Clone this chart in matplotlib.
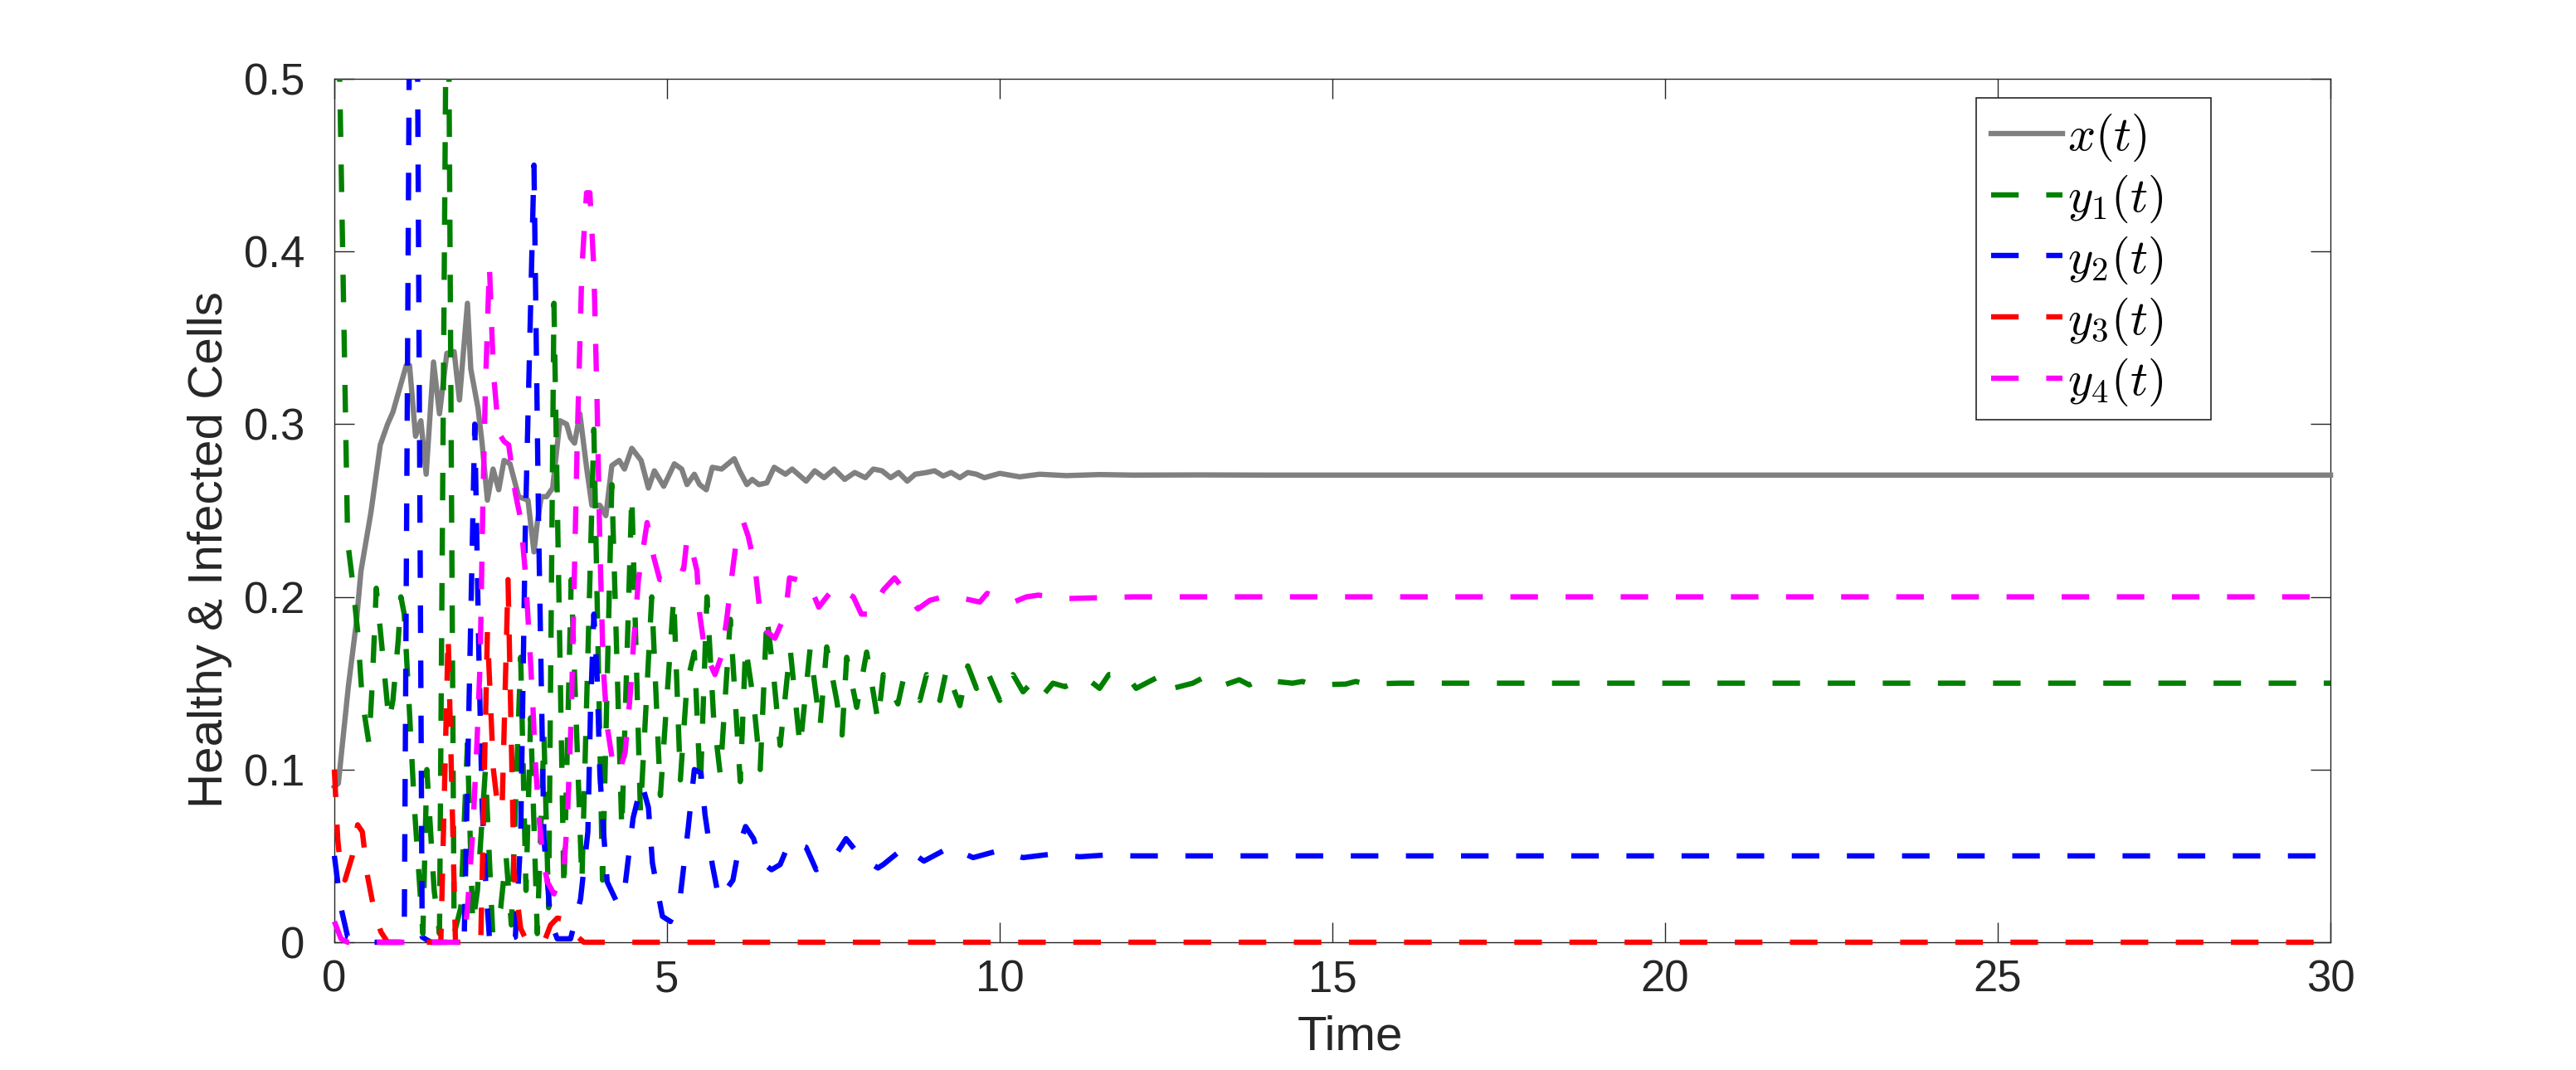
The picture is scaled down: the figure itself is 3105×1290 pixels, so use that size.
import matplotlib
matplotlib.use("Agg")
import matplotlib.pyplot as plt
from matplotlib.patches import Rectangle
from matplotlib.ticker import FuncFormatter

plt.rcParams['font.family'] = ['Liberation Sans', 'DejaVu Sans']
plt.rcParams['mathtext.fontset'] = 'cm'

# values: (time, value)
x_pts = [(0, 0.09), (0.06, 0.092), (0.21, 0.148), (0.33, 0.185), (0.4, 0.215), (0.55, 0.249),
         (0.69, 0.288), (0.8, 0.300), (0.88, 0.307), (1.08, 0.334), (1.13, 0.334), (1.22, 0.293),
         (1.3, 0.302), (1.38, 0.271), (1.49, 0.336), (1.58, 0.306), (1.69, 0.341), (1.8, 0.342),
         (1.88, 0.314), (2.0, 0.370), (2.05, 0.332), (2.16, 0.309), (2.22, 0.289), (2.3, 0.256),
         (2.385, 0.274), (2.47, 0.262), (2.55, 0.279), (2.64, 0.277), (2.77, 0.258), (2.91, 0.256),
         (3.0, 0.226), (3.05, 0.243), (3.11, 0.258), (3.19, 0.258), (3.28, 0.263), (3.39, 0.302),
         (3.49, 0.300), (3.55, 0.292), (3.61, 0.289), (3.69, 0.306), (3.79, 0.275), (3.87, 0.253),
         (3.99, 0.253), (4.08, 0.247), (4.17, 0.276), (4.28, 0.279), (4.36, 0.274), (4.47, 0.286),
         (4.61, 0.279), (4.72, 0.263), (4.81, 0.273), (4.95, 0.264), (5.11, 0.277), (5.22, 0.274),
         (5.3, 0.265), (5.41, 0.271), (5.49, 0.265), (5.59, 0.262), (5.68, 0.275), (5.82, 0.274),
         (6.01, 0.280), (6.09, 0.273), (6.2, 0.265), (6.28, 0.268), (6.38, 0.265), (6.5, 0.266),
         (6.61, 0.275), (6.78, 0.271), (6.88, 0.274), (7.09, 0.267), (7.22, 0.273), (7.36, 0.269),
         (7.51, 0.274), (7.67, 0.268), (7.82, 0.272), (7.98, 0.269), (8.1, 0.274), (8.23, 0.273),
         (8.36, 0.269), (8.48, 0.272), (8.61, 0.267), (8.73, 0.271), (8.9, 0.272), (9.02, 0.273),
         (9.15, 0.270), (9.27, 0.272), (9.4, 0.269), (9.52, 0.272), (9.65, 0.271), (9.77, 0.269),
         (10.0, 0.2715), (10.3, 0.2695), (10.6, 0.271), (11.0, 0.2702), (11.5, 0.2708),
         (12.0, 0.2705), (13.0, 0.2706), (14.0, 0.2705), (30.0, 0.2705)]

y1_pts = [(0, 0.68), (0.1, 0.455), (0.2, 0.232), (0.27, 0.21), (0.35, 0.18), (0.42, 0.14),
          (0.52, 0.115), (0.57, 0.15), (0.63, 0.205), (0.71, 0.173), (0.82, 0.128), (0.88, 0.14),
          (0.96, 0.175), (1.0, 0.2), (1.05, 0.19), (1.12, 0.14), (1.2, 0.08), (1.33, 0.005),
          (1.39, 0.1), (1.5, 0.03), (1.58, 0.005), (1.7, 0.65), (1.8, 0.005), (1.9, 0.02),
          (2.0, 0.115), (2.08, 0.01), (2.15, 0.03), (2.27, 0.10), (2.38, 0.005), (2.5, 0.02),
          (2.58, 0.05), (2.66, 0.01), (2.8, 0.165), (2.88, 0.03), (2.95, 0.13), (3.05, 0.005),
          (3.15, 0.12), (3.22, 0.02), (3.3, 0.37), (3.45, 0.03), (3.56, 0.21), (3.72, 0.035),
          (3.9, 0.297), (4.03, 0.036), (4.17, 0.265), (4.32, 0.065), (4.47, 0.259), (4.6, 0.075),
          (4.77, 0.2), (4.9, 0.085), (5.1, 0.2), (5.2, 0.094), (5.3, 0.15), (5.41, 0.168),
          (5.5, 0.089), (5.6, 0.2), (5.7, 0.13), (5.8, 0.097), (5.95, 0.187), (6.1, 0.093),
          (6.18, 0.171), (6.3, 0.14), (6.4, 0.1), (6.5, 0.189), (6.6, 0.155), (6.7, 0.114),
          (6.85, 0.17), (7.0, 0.113), (7.15, 0.17), (7.3, 0.125), (7.4, 0.171), (7.55, 0.14),
          (7.63, 0.12), (7.7, 0.165), (7.85, 0.136), (8.0, 0.168), (8.17, 0.128), (8.25, 0.155),
          (8.47, 0.138), (8.55, 0.152), (8.8, 0.14), (8.9, 0.155), (9.1, 0.14), (9.2, 0.158),
          (9.4, 0.137), (9.52, 0.16), (9.65, 0.147), (9.8, 0.158), (10.0, 0.14), (10.2, 0.155),
          (10.35, 0.145), (10.5, 0.151), (10.65, 0.143), (10.8, 0.15), (10.98, 0.148),
          (11.3, 0.153), (11.5, 0.147), (11.64, 0.155), (11.9, 0.155), (12.05, 0.147),
          (12.2, 0.15), (12.45, 0.155), (12.6, 0.147), (12.9, 0.15), (13.05, 0.153),
          (13.3, 0.148), (13.6, 0.152), (13.75, 0.149), (13.9, 0.152), (14.4, 0.15),
          (14.55, 0.151), (14.7, 0.149), (15.2, 0.1495), (15.35, 0.151), (15.5, 0.1495),
          (16.0, 0.15), (30.0, 0.15)]

y2_pts = [(0, 0.05), (0.1, 0.02), (0.2, 0.003), (0.4, 0.0), (1.05, 0.0), (1.19, 0.95),
          (1.32, 0.003), (1.45, 0.0), (1.95, 0.0), (2.11, 0.30), (2.17, 0.17), (2.22, 0.08),
          (2.28, 0.03), (2.33, 0.003), (2.45, 0.0), (2.72, 0.003), (2.8, 0.06), (2.87, 0.24),
          (3.0, 0.45), (3.07, 0.24), (3.15, 0.06), (3.25, 0.012), (3.35, 0.002), (3.55, 0.002),
          (3.70, 0.025), (3.81, 0.064), (3.85, 0.135), (3.9, 0.19), (3.95, 0.153), (3.99, 0.098),
          (4.04, 0.067), (4.1, 0.035), (4.26, 0.022), (4.37, 0.033), (4.49, 0.072), (4.62, 0.092),
          (4.72, 0.078), (4.78, 0.046), (4.93, 0.015), (5.05, 0.012), (5.2, 0.027), (5.32, 0.067),
          (5.41, 0.1), (5.51, 0.098), (5.57, 0.074), (5.68, 0.045), (5.78, 0.025), (5.88, 0.03),
          (5.99, 0.036), (6.09, 0.057), (6.18, 0.067), (6.3, 0.06), (6.4, 0.047), (6.57, 0.042),
          (6.7, 0.045), (6.84, 0.058), (7.09, 0.055), (7.24, 0.042), (7.49, 0.048), (7.69, 0.06),
          (7.92, 0.049), (8.17, 0.043), (8.25, 0.045), (8.57, 0.055), (8.86, 0.047), (9.25, 0.055),
          (9.6, 0.049), (9.98, 0.053), (10.35, 0.049), (10.77, 0.051), (11.2, 0.0495),
          (11.6, 0.0505), (12.0, 0.05), (30.0, 0.05)]

y3_pts = [(0, 0.1), (0.05, 0.06), (0.1, 0.04), (0.16, 0.036), (0.27, 0.05), (0.35, 0.068),
          (0.42, 0.064), (0.5, 0.038), (0.6, 0.018), (0.7, 0.006), (0.8, 0.0), (1.6, 0.0),
          (1.71, 0.178), (1.82, 0.0), (2.2, 0.0), (2.3, 0.18), (2.39, 0.1), (2.45, 0.08),
          (2.52, 0.076), (2.61, 0.21), (2.7, 0.04), (2.8, 0.008), (2.9, 0.0), (3.15, 0.0),
          (3.25, 0.01), (3.35, 0.014), (3.48, 0.013), (3.6, 0.005), (3.75, 0.0), (30.0, 0.0)]

y4_pts = [(0, 0.012), (0.1, 0.002), (0.2, 0.0), (1.95, 0.0), (2.0, 0.02), (2.08, 0.064),
          (2.14, 0.113), (2.19, 0.161), (2.23, 0.25), (2.27, 0.321), (2.33, 0.392), (2.39, 0.33),
          (2.47, 0.295), (2.55, 0.29), (2.62, 0.288), (2.72, 0.26), (2.8, 0.245), (2.87, 0.214),
          (2.93, 0.175), (2.98, 0.14), (3.02, 0.105), (3.07, 0.075), (3.13, 0.05), (3.2, 0.035),
          (3.3, 0.028), (3.45, 0.043), (3.5, 0.07), (3.56, 0.13), (3.6, 0.2), (3.65, 0.29),
          (3.72, 0.39), (3.79, 0.434), (3.84, 0.434), (3.9, 0.39), (3.95, 0.31), (3.99, 0.23),
          (4.04, 0.16), (4.1, 0.125), (4.18, 0.105), (4.28, 0.098), (4.37, 0.11), (4.45, 0.145),
          (4.5, 0.175), (4.57, 0.21), (4.7, 0.243), (4.8, 0.223), (4.89, 0.21), (5.0, 0.21),
          (5.12, 0.218), (5.25, 0.216), (5.3, 0.234), (5.37, 0.228), (5.45, 0.215), (5.49, 0.19),
          (5.57, 0.168), (5.72, 0.155), (5.82, 0.166), (5.9, 0.188), (5.97, 0.211), (6.03, 0.229),
          (6.15, 0.243), (6.22, 0.235), (6.32, 0.218), (6.4, 0.19), (6.5, 0.18), (6.62, 0.176),
          (6.78, 0.19), (6.84, 0.211), (6.95, 0.21), (7.13, 0.208), (7.28, 0.194), (7.4, 0.2),
          (7.53, 0.206), (7.8, 0.2), (7.92, 0.19), (8.05, 0.19), (8.25, 0.204), (8.42, 0.211),
          (8.52, 0.206), (8.77, 0.193), (8.95, 0.198), (9.15, 0.2), (9.46, 0.199), (9.7, 0.197),
          (9.81, 0.202), (10.21, 0.197), (10.4, 0.2), (10.58, 0.201), (11.0, 0.199),
          (12.0, 0.2), (30.0, 0.2)]

x_ticks = [0, 5, 10, 15, 20, 25, 30]
y_ticks = [0, 0.1, 0.2, 0.3, 0.4, 0.5]

series = [
    (x_pts, (0.5, 0.5, 0.5), '-', r'$x(t)$'),
    (y1_pts, (0, 0.5, 0), '--', r'$y_1(t)$'),
    (y2_pts, (0, 0, 1), '--', r'$y_2(t)$'),
    (y3_pts, (1, 0, 0), '--', r'$y_3(t)$'),
    (y4_pts, (1, 0, 1), '--', r'$y_4(t)$'),
]

axcol = '#262626'
fig = plt.figure(figsize=(31.05, 12.9), dpi=100)
ax = fig.add_axes([0.1298, 0.1194, 0.7749, 0.8070])

# like MATLAB: lines lying on the bottom edge are not cut in half
clip = Rectangle((-0.003, -0.006), 1.006, 1.006, transform=ax.transAxes,
                 facecolor='none', edgecolor='none')
ax.add_patch(clip)

for pts, col, ls, lab in series:
    t, v = zip(*pts)
    if ls == '-':
        ln, = ax.plot(t, v, color=col, lw=4.6, label=lab, zorder=3)
    else:
        ln, = ax.plot(t, v, color=col, lw=4.6, linestyle=(0, (5.2, 5.2)),
                      label=lab, zorder=3)
    ln.set_clip_path(clip)

ax.set_xlim(0, 30)
ax.set_ylim(0, 0.5)
ax.set_xticks(x_ticks)
ax.set_yticks(y_ticks)
ax.yaxis.set_major_formatter(FuncFormatter(lambda v, p: f'{v:g}'))
ax.tick_params(direction='in', length=17, width=1.0, top=True, right=True,
               labelsize=38, colors=axcol)
ax.tick_params(axis='y', pad=26)
ax.tick_params(axis='x', pad=15)
for s in ax.spines.values():
    s.set_color(axcol)
    s.set_linewidth(1.0)

ax.set_xlabel('Time', fontsize=42, color=axcol, va='center')
ax.xaxis.set_label_coords(0.509, -0.110)
ax.set_ylabel('Healthy & Infected Cells', fontsize=42, color=axcol, va='center')
ax.yaxis.set_label_coords(-0.0623, 0.455)

# legend box drawn separately, MATLAB leaves extra room on the right
box_x0, box_y0, box_x1, box_y1 = 0.8225, 0.6052, 0.9401, 0.9779
ax.add_patch(Rectangle((box_x0, box_y0), box_x1 - box_x0, box_y1 - box_y0,
                       transform=ax.transAxes, facecolor='white', edgecolor=axcol,
                       lw=1.2, zorder=4.5))
leg = ax.legend(loc='upper left', bbox_to_anchor=(box_x0, box_y1), fontsize=42,
                frameon=False, borderpad=0.3, labelspacing=0.2, handlelength=1.48,
                handletextpad=0.1, borderaxespad=0)
leg.set_zorder(5)

fig.savefig('out.png', dpi=100)
